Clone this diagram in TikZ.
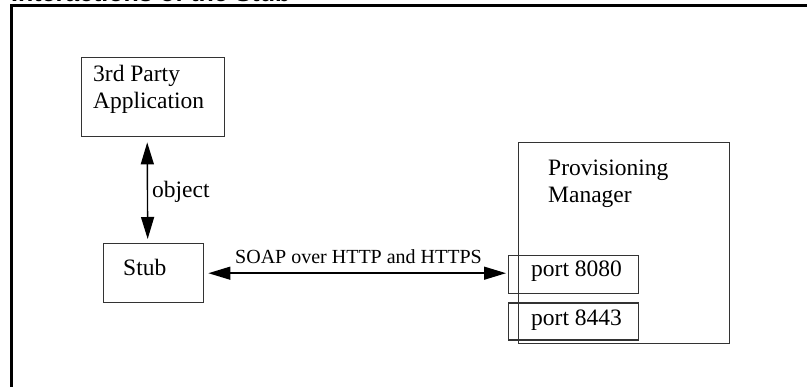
\documentclass[tikz,border=0pt]{standalone}
\usepackage{fontspec}
\setmainfont{Liberation Serif}
\newfontfamily\titlefont{Liberation Sans}
\usetikzlibrary{arrows.meta}
\tikzset{
  boxnode/.style={draw=black!80, line width=1.4pt, inner sep=0pt, anchor=north west},
  txt/.style={anchor=base west, inner sep=0pt, font=\fontsize{23.5}{27}\selectfont},
  smalltxt/.style={anchor=base west, inner sep=0pt, font=\fontsize{20}{24}\selectfont},
  biarrow/.style={line width=1.4pt, {Triangle[length=22pt,width=13pt]}-{Triangle[length=22pt,width=13pt]}},
  frameline/.style={line width=3pt, black}
}
\begin{document}
\begin{tikzpicture}[x=1pt, y=-1pt]
\useasboundingbox (0,0) rectangle (807,387);
\clip (0,0) rectangle (807,387);
% title (cut off at top, as in the reference)
\node[anchor=base west, inner sep=0pt, font=\titlefont\bfseries\fontsize{25}{30}\selectfont] (title) at (11,1.5) {Interactions of the Stub};
% frame
\coordinate (fl) at (11.5,400);
\coordinate (ftl) at (11.5,6);
\coordinate (fr) at (810,6);
\draw[frameline] (fl) -- (ftl) -- (fr);
% boxes
\node[boxnode, minimum width=143pt, minimum height=79pt] (app) at (81,57) {};
\node[txt] (apptxt) at (93,82) {3rd Party};
\node[txt] (apptxt2) at (93,109) {Application};
\node[boxnode, minimum width=100pt, minimum height=59pt] (stub) at (103,243) {};
\node[txt] (stubtxt) at (123,276) {Stub};
\node[boxnode, minimum width=211pt, minimum height=201pt] (pm) at (518,142) {};
\node[txt] (pmtxt) at (548,176) {Provisioning};
\node[txt] (pmtxt2) at (548,203) {Manager};
\node[boxnode, minimum width=130pt, minimum height=38pt] (p1) at (508,255) {};
\node[txt] (p1txt) at (531,277) {port 8080};
\node[boxnode, minimum width=130pt, minimum height=37pt] (p2) at (508,302.5) {};
\node[txt] (p2txt) at (531,326) {port 8443};
% connectors
\draw[biarrow, shorten <=5pt, shorten >=4pt] ([xshift=-6pt]app.south) -- ([xshift=-6pt]stub.north);
\node[txt] (objlbl) at (152,198) {object};
\draw[biarrow, shorten <=4pt, shorten >=2pt] (stub.east) -- (stub.east -| p1.west);
\node[smalltxt] (soaplbl) at (235,264) {SOAP over HTTP and HTTPS};
\end{tikzpicture}
\end{document}
